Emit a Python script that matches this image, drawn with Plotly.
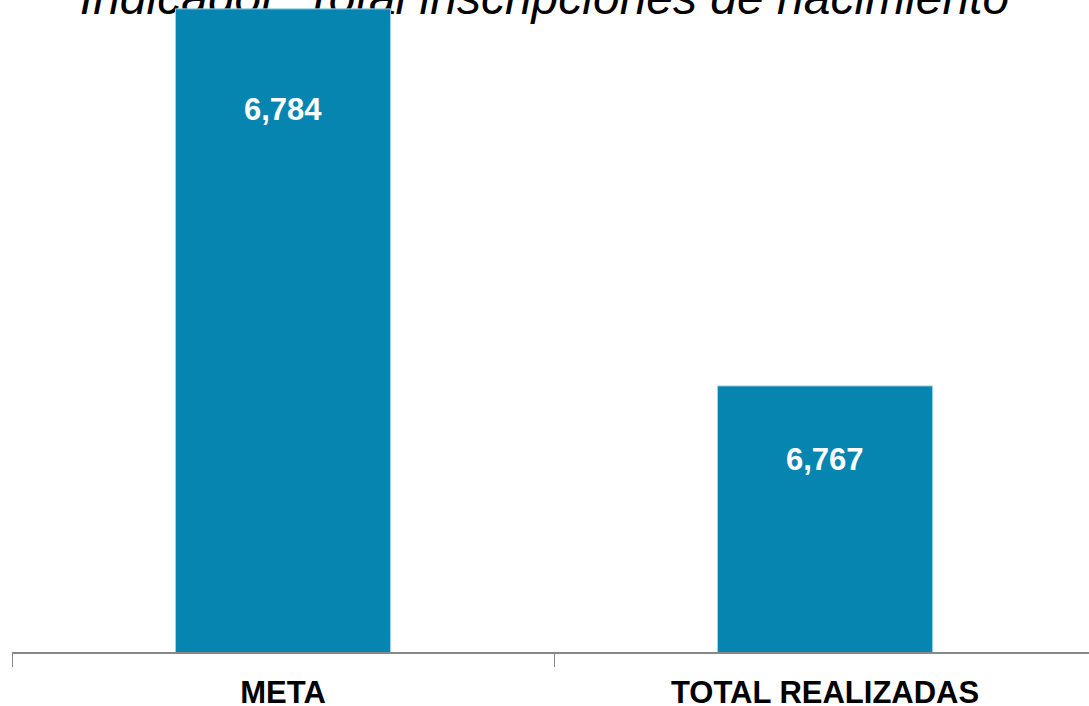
import plotly.graph_objects as go

categories = ["META", "TOTAL REALIZADAS"]
values = [6784, 6767]
value_labels = ["6,784", "6,767"]
title_text = "Indicador: Total inscripciones de nacimiento"

label_offsets = [-101, -74]  # pixel offset of value labels below bar tops

bar_color = "#0785B1"
FONT = "Liberation Sans, Arial"

fig = go.Figure()
fig.add_trace(go.Bar(
    x=categories, y=values, width=0.397,
    marker=dict(color=bar_color, line=dict(color="#a6d4e6", width=1)),
    hoverinfo="skip",
))

for c, v, t, off in zip(categories, values, value_labels, label_offsets):
    fig.add_annotation(x=c, y=v, text=t, showarrow=False, yshift=off,
                       yanchor="middle",
                       font=dict(family=FONT, size=31, color="white", weight="bold"))

# title drawn beneath the bars (bars overlap it in the reference)
fig.add_shape(type="rect", xref="paper", yref="paper", x0=-0.0111, x1=1.0,
              y0=1 - 19 / 652, y1=1.0,
              layer="below", line=dict(width=0), fillcolor="rgba(0,0,0,0)",
              label=dict(text=title_text, textposition="bottom center", padding=0,
                         font=dict(family=FONT, size=48, color="black", style="italic")))

fig.update_layout(
    width=1089, height=706,
    margin=dict(l=12, r=0, t=0, b=54),
    plot_bgcolor="white", paper_bgcolor="white",
    showlegend=False,
)
fig.update_xaxes(
    range=[-0.5, 1.487], showline=True, linecolor="#888888", linewidth=2,
    ticks="outside", tickson="boundaries", ticklen=13, tickcolor="#888888", tickwidth=1,
    ticklabelstandoff=12,
    tickfont=dict(family=FONT, size=31, color="black", weight="bold"),
    showgrid=False, zeroline=False, automargin=False,
)
fig.update_yaxes(range=[6755, 6784.4], visible=False, showgrid=False, zeroline=False,
                 automargin=False)

fig.write_html("out.html", config={"displayModeBar": False},
               post_script="document.body.style.margin='0';document.body.style.overflow='hidden';")
